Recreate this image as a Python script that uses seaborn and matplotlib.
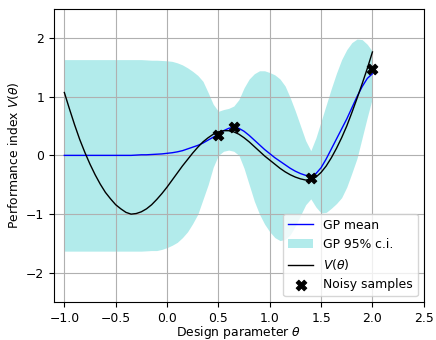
import matplotlib

matplotlib.use("Agg")
import matplotlib.pyplot as plt
import numpy as np
import seaborn as sns

# ----------------------------------------------------------------------
# Data
# ----------------------------------------------------------------------

theta = np.round(np.arange(-1.0, 2.0001, 0.05), 2)

# true performance index V(theta)
v_true = [
    1.07, 0.79, 0.52, 0.27, 0.05, -0.15, -0.33, -0.49, -0.63, -0.74,
    -0.84, -0.91, -0.97, -1.00, -0.99, -0.96, -0.91, -0.84, -0.75, -0.65,
    -0.54, -0.42, -0.30, -0.18, -0.07, 0.04, 0.14, 0.23, 0.30, 0.36,
    0.40, 0.42, 0.42, 0.40, 0.36, 0.30, 0.23, 0.15, 0.07, -0.01,
    -0.08, -0.15, -0.22, -0.28, -0.33, -0.37, -0.40, -0.42, -0.41, -0.37,
    -0.29, -0.18, -0.04, 0.12, 0.30, 0.50, 0.73, 0.97, 1.22, 1.48,
    1.76,
]

# GP posterior mean
gp_mean = [
    0.00, 0.00, 0.00, 0.00, 0.00, 0.00, 0.00, 0.00, 0.00, 0.00,
    0.00, 0.00, 0.00, 0.00, 0.005, 0.01, 0.01, 0.015, 0.02, 0.025,
    0.035, 0.045, 0.06, 0.08, 0.11, 0.14, 0.17, 0.21, 0.26, 0.31,
    0.36, 0.42, 0.46, 0.48, 0.46, 0.41, 0.34, 0.26, 0.18, 0.10,
    0.03, -0.04, -0.10, -0.16, -0.22, -0.27, -0.31, -0.34, -0.35, -0.31,
    -0.21, -0.06, 0.11, 0.28, 0.45, 0.62, 0.81, 1.00, 1.17, 1.31,
    1.39,
]

# GP 95% confidence band
ci_upper = [
    1.63, 1.63, 1.63, 1.63, 1.63, 1.63, 1.63, 1.63, 1.63, 1.63,
    1.63, 1.63, 1.63, 1.63, 1.63, 1.63, 1.625, 1.62, 1.62, 1.615,
    1.61, 1.60, 1.575, 1.54, 1.49, 1.43, 1.36, 1.26, 1.07, 0.87,
    0.75, 0.78, 0.80, 0.84, 0.95, 1.15, 1.30, 1.39, 1.44, 1.44,
    1.41, 1.37, 1.30, 1.18, 0.98, 0.75, 0.50, 0.25, 0.08, 0.30,
    0.58, 0.86, 1.14, 1.40, 1.63, 1.80, 1.92, 1.98, 1.97, 1.89,
    1.77,
]
ci_lower = [
    -1.63, -1.63, -1.63, -1.63, -1.63, -1.63, -1.63, -1.63, -1.63, -1.63,
    -1.63, -1.63, -1.63, -1.63, -1.63, -1.63, -1.625, -1.62, -1.62, -1.60,
    -1.57, -1.53, -1.48, -1.40, -1.30, -1.16, -1.00, -0.75, -0.50, -0.20,
    0.00, 0.07, 0.09, 0.07, 0.00, -0.22, -0.50, -0.78, -1.00, -1.17,
    -1.30, -1.40, -1.45, -1.43, -1.35, -1.20, -1.02, -0.84, -0.74, -0.88,
    -0.98, -0.97, -0.90, -0.82, -0.72, -0.54, -0.30, -0.05, 0.30, 0.65,
    0.98,
]

# noisy evaluations
sample_theta = [0.5, 0.65, 1.4, 2.0]
sample_v = [0.35, 0.49, -0.38, 1.47]


def main() -> None:
    plt.rcParams["font.size"] = 8.9

    fig, ax = plt.subplots(figsize=(4.36, 3.4), dpi=100)
    fig.subplots_adjust(left=0.124, right=0.972, top=0.975, bottom=0.111)

    sns.lineplot(x=theta, y=gp_mean, color="blue", lw=1, ax=ax, label="GP mean")
    ax.fill_between(theta, ci_lower, ci_upper, color="c", alpha=0.3, lw=0,
                    label="GP 95% c.i.")
    sns.lineplot(x=theta, y=v_true, color="black", lw=1, ax=ax,
                 label=r"$V(\theta)$")
    sns.scatterplot(x=sample_theta, y=sample_v, marker="X", s=60,
                    color="black", edgecolor="black", ax=ax, zorder=5,
                    label="Noisy samples")

    ax.set_xlim(-1.1, 2.5)
    ax.set_ylim(-2.5, 2.5)
    ax.set_xticks(np.arange(-1.0, 2.51, 0.5))
    ax.set_yticks([-2, -1, 0, 1, 2])
    ax.grid(True)
    ax.set_xlabel(r"Design parameter $\theta$", labelpad=-1)
    ax.set_ylabel(r"Performance index $V(\theta)$")
    ax.legend(loc="lower right")

    fig.savefig("out.png", dpi=100)
    plt.close(fig)


if __name__ == "__main__":
    main()
